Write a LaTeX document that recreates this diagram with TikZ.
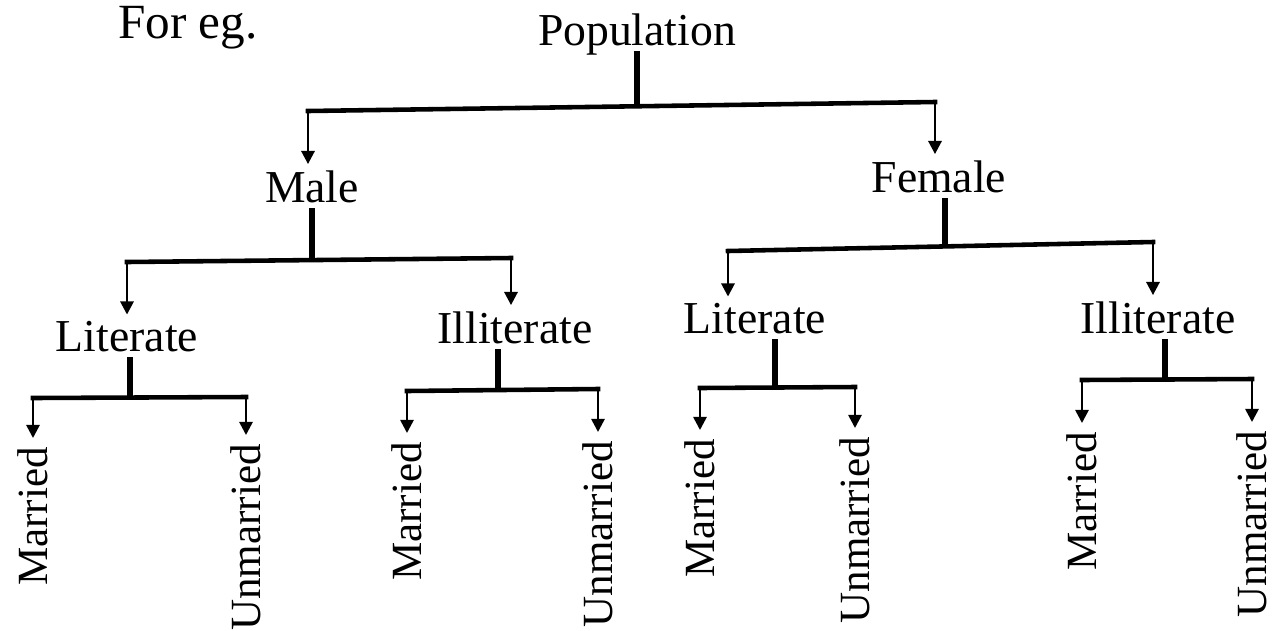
\documentclass[tikz,border=0pt]{standalone}
\usepackage{fontspec}
\setmainfont{Liberation Serif}
\usetikzlibrary{arrows.meta}

\begin{document}
\begin{tikzpicture}[x=0.02cm,y=-0.02cm,>={Triangle[width=7.5pt,length=7.5pt]},line join=miter,
  lbl/.style={font=\fontsize{26}{31}\selectfont,text depth=0pt,anchor=base},
  leaf/.style={font=\fontsize{24.5}{29}\selectfont,rotate=90,anchor=east,inner sep=5pt},
  stem/.style={line width=3pt},
  bar/.style={line width=2.6pt,line cap=rect},
  drop/.style={line width=1.5pt,->}]
  \useasboundingbox (0,0) rectangle (1279,630);

  \node[anchor=base west,inner sep=0pt,font=\fontsize{28}{33}\selectfont] (foreg) at (118,38) {For eg.};

  % labels
  \node[lbl] (pop) at (637,45) {Population};
  \node[lbl] (male) at (312,202) {Male};
  \node[lbl] (female) at (939,192) {Female};
  \node[lbl] (lit1) at (127,351) {Literate};
  \node[lbl] (ill1) at (515,343) {Illiterate};
  \node[lbl] (lit2) at (755,333) {Literate};
  \node[lbl] (ill2) at (1158,333) {Illiterate};

  \node[leaf] (mar1) at (33,438) {Married};
  \node[leaf] (unm1) at (246,435) {Unmarried};
  \node[leaf] (mar2) at (407,433) {Married};
  \node[leaf] (unm2) at (598,432) {Unmarried};
  \node[leaf] (mar3) at (700,430) {Married};
  \node[leaf] (unm3) at (855,428) {Unmarried};
  \node[leaf] (mar4) at (1082,423) {Married};
  \node[leaf] (unm4) at (1252,422) {Unmarried};

  % bar ends and junctions
  \coordinate (pop-l) at (308,111);  \coordinate (pop-r) at (935,102);  \coordinate (pop-j) at (637,106);
  \coordinate (male-l) at (127,262); \coordinate (male-r) at (511,258); \coordinate (male-j) at (312,260);
  \coordinate (fem-l) at (728,251);  \coordinate (fem-r) at (1153,242); \coordinate (fem-j) at (945,245);
  \coordinate (lit1-l) at (33,398);  \coordinate (lit1-r) at (246,397); \coordinate (lit1-j) at (130,398);
  \coordinate (ill1-l) at (407,391); \coordinate (ill1-r) at (598,389); \coordinate (ill1-j) at (498,390);
  \coordinate (lit2-l) at (700,388); \coordinate (lit2-r) at (855,387); \coordinate (lit2-j) at (775,387);
  \coordinate (ill2-l) at (1082,380); \coordinate (ill2-r) at (1252,379); \coordinate (ill2-j) at (1165,380);

  % population
  \draw[stem] (pop-j |- pop.south) -- (pop-j);
  \draw[bar] (pop-l) -- (pop-r);
  \draw[drop] (pop-l) -- (pop-l |- male.north);
  \draw[drop] (pop-r) -- (pop-r |- female.north);

  % male
  \draw[stem] (male-j |- male.south) -- (male-j);
  \draw[bar] (male-l) -- (male-r);
  \draw[drop] (male-l) -- (male-l |- lit1.north);
  \draw[drop] (male-r) -- (male-r |- ill1.north);

  % female
  \draw[stem] (fem-j |- female.south) -- (fem-j);
  \draw[bar] (fem-l) -- (fem-r);
  \draw[drop] (fem-l) -- (fem-l |- lit2.north);
  \draw[drop] (fem-r) -- (fem-r |- ill2.north);

  % third level
  \draw[stem] (lit1-j |- lit1.south) -- (lit1-j);
  \draw[bar] (lit1-l) -- (lit1-r);
  \draw[drop] (lit1-l) -- (mar1.east);
  \draw[drop] (lit1-r) -- (unm1.east);

  \draw[stem] (ill1-j |- ill1.south) -- (ill1-j);
  \draw[bar] (ill1-l) -- (ill1-r);
  \draw[drop] (ill1-l) -- (mar2.east);
  \draw[drop] (ill1-r) -- (unm2.east);

  \draw[stem] (lit2-j |- lit2.south) -- (lit2-j);
  \draw[bar] (lit2-l) -- (lit2-r);
  \draw[drop] (lit2-l) -- (mar3.east);
  \draw[drop] (lit2-r) -- (unm3.east);

  \draw[stem] (ill2-j |- ill2.south) -- (ill2-j);
  \draw[bar] (ill2-l) -- (ill2-r);
  \draw[drop] (ill2-l) -- (mar4.east);
  \draw[drop] (ill2-r) -- (unm4.east);
\end{tikzpicture}
\end{document}
